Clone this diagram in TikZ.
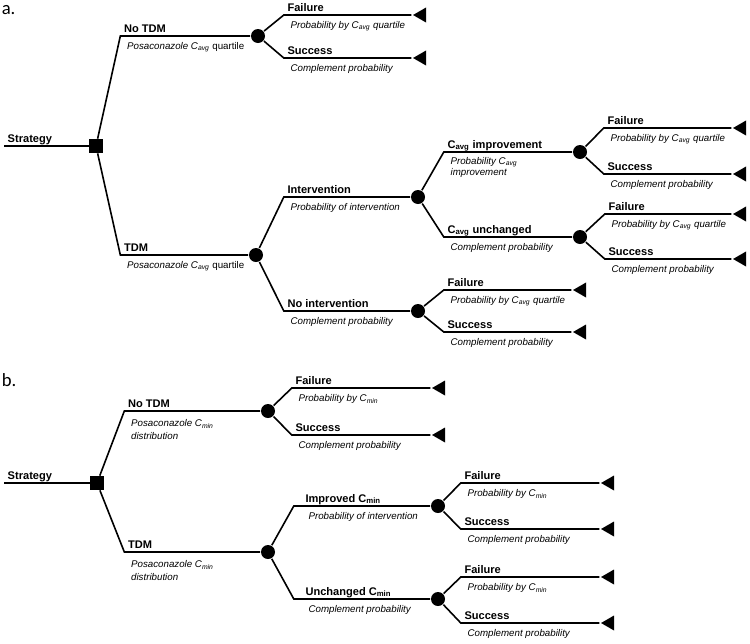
\documentclass[tikz,border=0pt]{standalone}
\usepackage{fontspec}
\setmainfont{Liberation Sans}
\newfontfamily\panelfont{Carlito}
\usetikzlibrary{shapes.geometric,calc}

\begin{document}
\begin{tikzpicture}[x=0.75pt, y=-0.75pt, line width=1.2pt,
  dec/.style={rectangle, fill=black, inner sep=0pt, minimum size=9.8pt},
  chn/.style={circle, fill=black, inner sep=0pt, minimum size=10.5pt},
  trm/.style={regular polygon, regular polygon sides=3, shape border rotate=90, fill=black, inner sep=0pt, minimum size=13pt},
  brn/.style={to path={-- ($(\tikztostart.east |- \tikztotarget)+(#1,0)$) -- (\tikztotarget) \tikztonodes}},
  brn/.default=18,
  lbl/.style={pos=0, anchor=base west, xshift=2.2pt, yshift=3pt, inner sep=0pt, font=\fontsize{8.3}{10}\selectfont\bfseries},
  prb/.style={pos=0, anchor=base west, xshift=4.5pt, yshift=-10pt, inner sep=0pt, align=left, font=\fontsize{7.3}{9.5}\selectfont\itshape},
  pnl/.style={anchor=west, inner sep=0pt, font=\panelfont\fontsize{14}{16}\selectfont}]
\useasboundingbox (0,0) rectangle (750,643);

% (a) TDM on C_avg quartile
\node[pnl] (pa) at (1,10) {a.};
\coordinate (sa) at (4,146);
\node[dec] (da) at (96,146) {};
\node[chn] (na1) at (258,36) {};
\node[chn] (na2) at (256,255) {};
\node[chn] (na3) at (418,197) {};
\node[chn] (na4) at (418,311) {};
\node[chn] (na5) at (580,152) {};
\node[chn] (na6) at (580,237) {};
\node[trm] (ta1) at (421.7,15) {};
\node[trm] (ta2) at (421.7,58) {};
\node[trm] (ta3) at (741.7,128) {};
\node[trm] (ta4) at (741.7,174) {};
\node[trm] (ta5) at (741.7,214) {};
\node[trm] (ta6) at (741.7,259) {};
\node[trm] (ta7) at (581.7,290) {};
\node[trm] (ta8) at (581.7,332) {};
\draw (sa) -- node[lbl]{Strategy} (da);
\draw (da) to[brn=17] node[lbl]{No TDM}
  node[prb]{\textit{Posaconazole C\textsubscript{avg}} \textup{quartile}} (na1);
\draw (da) to[brn=17] node[lbl]{TDM}
  node[prb]{\textit{Posaconazole C\textsubscript{avg}} \textup{quartile}} (na2);
\draw (na1) to[brn] node[lbl]{Failure} node[prb]{Probability by C\textsubscript{avg} quartile} (ta1);
\draw (na1) to[brn] node[lbl]{Success} node[prb]{Complement probability} (ta2);
\draw (na2) to[brn=20] node[lbl]{Intervention} node[prb]{Probability of intervention} (na3);
\draw (na2) to[brn=20] node[lbl]{No intervention} node[prb]{Complement probability} (na4);
\draw (na3) to[brn] node[lbl]{C\textsubscript{avg} improvement}
  node[prb, yshift=-7.5pt, font=\fontsize{7.3}{7}\selectfont\itshape]{Probability C\textsubscript{avg}\\improvement} (na5);
\draw (na3) to[brn] node[lbl]{C\textsubscript{avg} unchanged} node[prb]{Complement probability} (na6);
\draw (na5) to[brn=16] node[lbl]{Failure} node[prb]{Probability by C\textsubscript{avg} quartile} (ta3);
\draw (na5) to[brn=16] node[lbl]{Success} node[prb]{Complement probability} (ta4);
\draw (na6) to[brn=17] node[lbl]{Failure} node[prb]{Probability by C\textsubscript{avg} quartile} (ta5);
\draw (na6) to[brn=17] node[lbl]{Success} node[prb]{Complement probability} (ta6);
\draw (na4) to[brn] node[lbl]{Failure} node[prb]{Probability by C\textsubscript{avg} quartile} (ta7);
\draw (na4) to[brn] node[lbl]{Success} node[prb]{Complement probability} (ta8);

% (b) TDM on C_min distribution
\node[pnl] (pb) at (1,380) {b.};
\coordinate (sb) at (4,483);
\node[dec] (db) at (97,483) {};
\node[chn] (nb1) at (268,411) {};
\node[chn] (nb2) at (268,552) {};
\node[chn] (nb3) at (438,506) {};
\node[chn] (nb4) at (438,599) {};
\node[trm] (tb1) at (440.7,388) {};
\node[trm] (tb2) at (440.7,435) {};
\node[trm] (tb3) at (609.7,483) {};
\node[trm] (tb4) at (609.7,529) {};
\node[trm] (tb5) at (609.7,577) {};
\node[trm] (tb6) at (609.7,623) {};
\draw (sb) -- node[lbl]{Strategy} (db);
\draw (db) to[brn=20] node[lbl]{No TDM}
  node[prb, yshift=-11pt]{Posaconazole C\textsubscript{min}\\distribution} (nb1);
\draw (db) to[brn=20] node[lbl]{TDM}
  node[prb, yshift=-11pt]{Posaconazole C\textsubscript{min}\\distribution} (nb2);
\draw (nb1) to[brn=16] node[lbl]{Failure} node[prb]{Probability by C\textsubscript{min}} (tb1);
\draw (nb1) to[brn=16] node[lbl]{Success} node[prb]{Complement probability} (tb2);
\draw (nb2) to[brn] node[lbl, xshift=6pt]{Improved C\textsubscript{min}} node[prb, xshift=6pt]{Probability of intervention} (nb3);
\draw (nb2) to[brn] node[lbl, xshift=6pt]{Unchanged C\textsubscript{min}} node[prb, xshift=6pt]{Complement probability} (nb4);
\draw (nb3) to[brn=15] node[lbl]{Failure} node[prb]{Probability by C\textsubscript{min}} (tb3);
\draw (nb3) to[brn=15] node[lbl]{Success} node[prb]{Complement probability} (tb4);
\draw (nb4) to[brn=15] node[lbl]{Failure} node[prb]{Probability by C\textsubscript{min}} (tb5);
\draw (nb4) to[brn=15] node[lbl]{Success} node[prb]{Complement probability} (tb6);
\end{tikzpicture}
\end{document}
